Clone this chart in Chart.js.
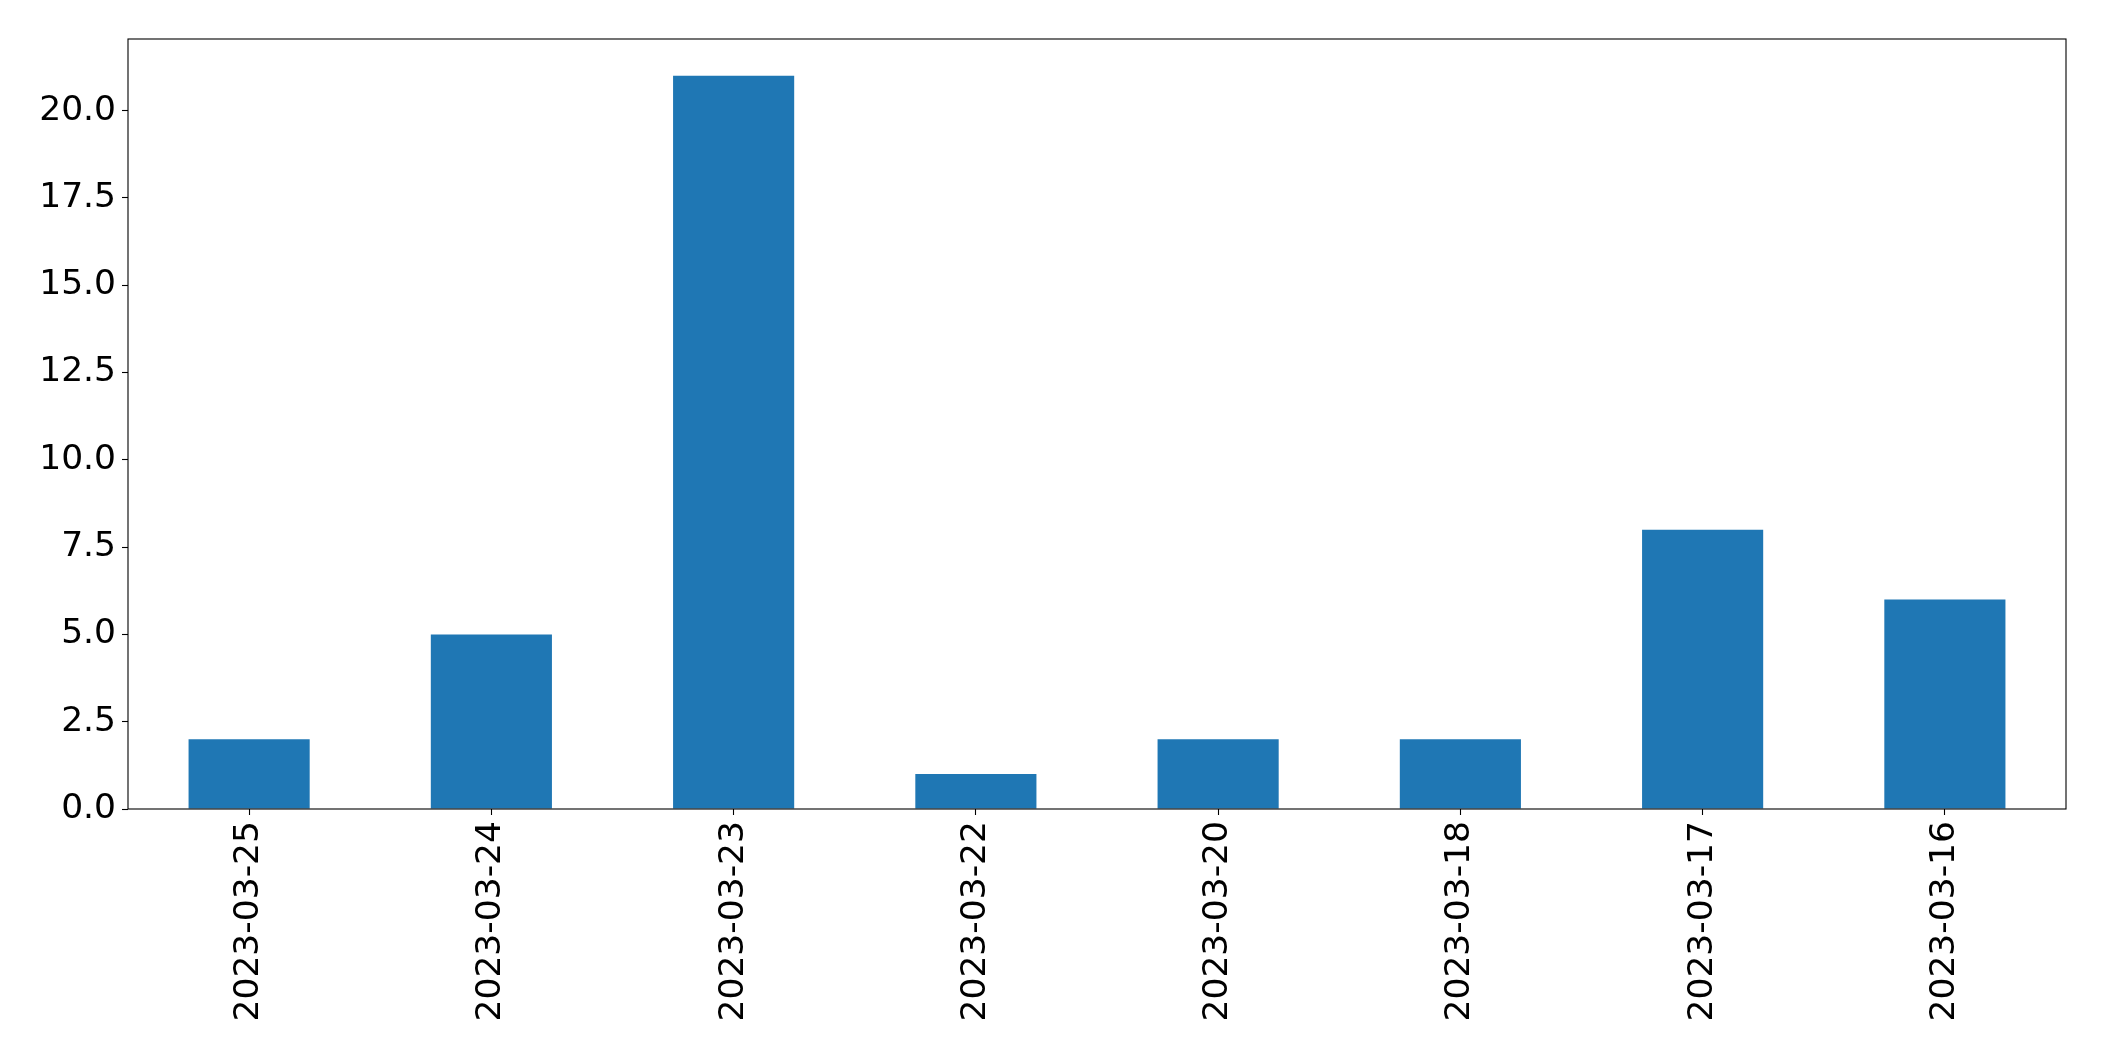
<!DOCTYPE html>
<html>
<head>
<meta charset="utf-8">
<script src="https://cdn.jsdelivr.net/npm/chart.js@4"></script>
<style>
  html, body { margin: 0; padding: 0; background: #fff; }
  canvas { display: block; }
</style>
</head>
<body>
<canvas id="chart" width="2104" height="1061"></canvas>
<script>
// donnees du graphique
const dates = ['2023-03-25', '2023-03-24', '2023-03-23', '2023-03-22', '2023-03-20', '2023-03-18', '2023-03-17', '2023-03-16'];
const counts = [2, 5, 21, 1, 2, 2, 8, 6];
const yStep = 2.5;
const yMax = 22.05;

// cadre autour de la zone du graphique (style matplotlib)
const cadre = {
  id: 'cadre',
  afterDraw(chart) {
    const { ctx, chartArea: a } = chart;
    ctx.save();
    ctx.strokeStyle = '#000';
    ctx.lineWidth = 1.1;
    ctx.strokeRect(a.left, a.top, a.right - a.left, a.bottom - a.top);
    ctx.restore();
  }
};

const ctx = document.getElementById('chart').getContext('2d');
new Chart(ctx, {
  type: 'bar',
  data: {
    labels: dates,
    datasets: [{
      data: counts,
      backgroundColor: '#1f77b4',
      borderWidth: 0,
      categoryPercentage: 1.0,
      barPercentage: 0.5
    }]
  },
  options: {
    responsive: false,
    devicePixelRatio: 1,
    animation: false,
    layout: { padding: { left: 0, top: 39, right: 38, bottom: 0 } },
    plugins: { legend: { display: false }, tooltip: { enabled: false } },
    scales: {
      x: {
        grid: { display: true, offset: false, drawOnChartArea: false, tickLength: 6, tickColor: '#000', tickWidth: 1.1 },
        border: { display: false },
        ticks: {
          color: '#000',
          font: { family: 'DejaVu Sans', size: 34.5 },
          minRotation: 90,
          maxRotation: 90,
          padding: 6,
          autoSkip: false
        },
        afterFit(axis) { axis.height = 252; }
      },
      y: {
        min: 0,
        max: yMax,
        grid: { display: true, drawOnChartArea: false, tickLength: 6, tickColor: '#000', tickWidth: 1.1 },
        border: { display: false },
        ticks: {
          color: '#000',
          font: { family: 'DejaVu Sans', size: 34.5 },
          stepSize: yStep,
          padding: 6,
          callback: v => v.toFixed(1)
        },
        afterBuildTicks(axis) {
          axis.ticks = axis.ticks.filter(t => Math.abs(t.value / yStep - Math.round(t.value / yStep)) < 1e-6);
        },
        afterFit(axis) { axis.width = 128; }
      }
    }
  },
  plugins: [cadre]
});
</script>
</body>
</html>
